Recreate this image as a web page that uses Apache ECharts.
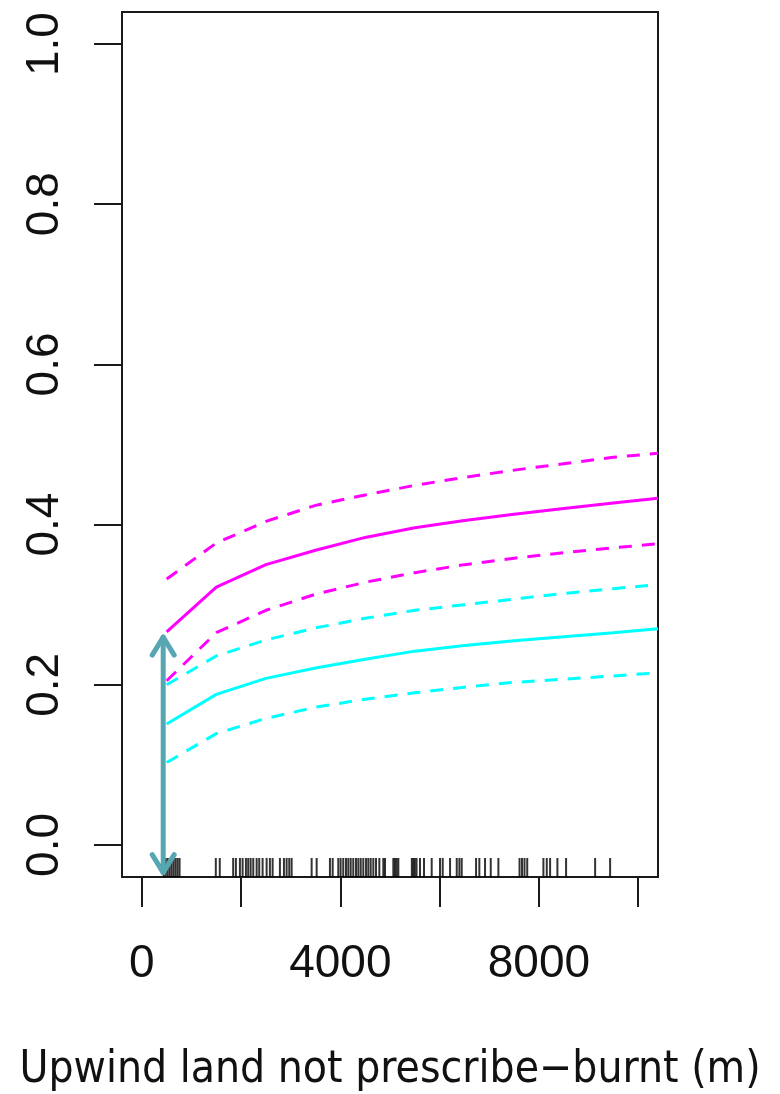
<!DOCTYPE html>
<html>
<head>
<meta charset="utf-8">
<script src="https://cdn.jsdelivr.net/npm/echarts@6/dist/echarts.min.js"></script>
<style>
  html, body { margin: 0; padding: 0; background: #fff; }
  #main { width: 780px; height: 1094px; }
</style>
</head>
<body>
<div id="main"></div>
<script>
// distances along x where the curves were evaluated
const xPoints = [500, 1500, 2500, 3500, 4500, 5500, 6500, 7500, 8500, 9500, 10400]

// magenta: fitted line and its band
const magentaFit   = [0.266, 0.322, 0.350, 0.368, 0.384, 0.396, 0.405, 0.413, 0.420, 0.427, 0.433]
const magentaUpper = [0.332, 0.377, 0.404, 0.424, 0.437, 0.449, 0.459, 0.468, 0.476, 0.484, 0.489]
const magentaLower = [0.205, 0.265, 0.293, 0.313, 0.328, 0.340, 0.350, 0.358, 0.365, 0.371, 0.376]

// cyan: fitted line and its band
const cyanFit   = [0.151, 0.188, 0.208, 0.221, 0.232, 0.242, 0.249, 0.255, 0.260, 0.265, 0.270]
const cyanUpper = [0.200, 0.236, 0.256, 0.271, 0.283, 0.293, 0.300, 0.307, 0.314, 0.320, 0.325]
const cyanLower = [0.103, 0.139, 0.158, 0.172, 0.182, 0.190, 0.197, 0.203, 0.207, 0.211, 0.215]

// observed distances (rug along the bottom)
const rugValues = [
  440, 480, 520, 560, 600, 640, 680, 720, 760,
  1490, 1570, 1840, 1895,
  1976, 2030, 2097, 2143, 2192, 2245, 2313, 2365, 2433, 2514,
  2580, 2635, 2782, 2863, 2917, 2970, 3018,
  3421, 3522, 3790, 3845,
  3958, 4005, 4058, 4113, 4160, 4208, 4260, 4315, 4362, 4410, 4462, 4517, 4563, 4611, 4664, 4718, 4785,
  4865, 4899, 5067, 5100, 5135, 5168,
  5440, 5470, 5500, 5535, 5605, 5685, 5840,
  6008, 6062, 6210, 6345, 6398, 6445,
  6734, 6800, 6915, 7030, 7184,
  7610, 7660, 7710, 7765,
  8091, 8159, 8226, 8373, 8548, 9133, 9435
]

// double arrow marking the gap at the first point
const arrowX = 430
const arrowTop = 0.262
const arrowBottom = -0.037

const yTicks = [0, 0.2, 0.4, 0.6, 0.8, 1.0]
const xTicks = [0, 2000, 4000, 6000, 8000, 10000]
const xLabels = [0, 4000, 8000]

const MAGENTA = '#ff00ff'
const CYAN = '#00ffff'
const TEAL = '#57a7b3'

const pairs = (ys) => xPoints.map((x, i) => [x, ys[i]])

function curve(name, ys, color, dashed) {
  return {
    name: name,
    type: 'line',
    data: pairs(ys),
    showSymbol: false,
    silent: true,
    z: 3,
    lineStyle: {
      color: color,
      width: 3,
      type: dashed ? [13, 10] : 'solid'
    }
  }
}

const chart = echarts.init(document.getElementById('main'))

chart.setOption({
  animation: false,
  backgroundColor: '#fff',
  grid: {
    left: 122,
    right: 122,
    top: 12,
    bottom: 217,
    containLabel: false,
    outerBoundsMode: 'none',
    show: true,
    borderColor: '#1a1a1a',
    borderWidth: 2,
    backgroundColor: 'transparent'
  },
  xAxis: {
    type: 'value',
    min: -400,
    max: 10400,
    splitLine: { show: false },
    axisLine: { show: false, onZero: false },
    axisTick: {
      show: true,
      length: 30,
      customValues: xTicks,
      lineStyle: { color: '#1a1a1a', width: 2 }
    },
    axisLabel: {
      customValues: xLabels,
      margin: 64,
      color: '#111',
      fontSize: 46,
      fontFamily: 'Liberation Sans',
      formatter: (v) => String(v)
    },
    name: 'Upwind land not prescribe\u2212burnt (m)',
    nameLocation: 'middle',
    nameGap: 172,
    nameTextStyle: {
      color: '#111',
      fontSize: 44,
      fontFamily: 'DejaVu Sans Condensed'
    }
  },
  yAxis: {
    type: 'value',
    min: -0.04,
    max: 1.04,
    splitLine: { show: false },
    axisLine: { show: false, onZero: false },
    axisTick: {
      show: true,
      length: 28,
      customValues: yTicks,
      lineStyle: { color: '#1a1a1a', width: 2 }
    },
    axisLabel: {
      customValues: yTicks,
      rotate: 90,
      margin: 54,
      color: '#111',
      fontSize: 46,
      fontFamily: 'Liberation Sans',
      formatter: (v) => v.toFixed(1)
    }
  },
  series: [
    curve('magenta upper', magentaUpper, MAGENTA, true),
    curve('magenta fit', magentaFit, MAGENTA, false),
    curve('magenta lower', magentaLower, MAGENTA, true),
    curve('cyan upper', cyanUpper, CYAN, true),
    curve('cyan fit', cyanFit, CYAN, false),
    curve('cyan lower', cyanLower, CYAN, true),
    {
      name: 'rug',
      type: 'scatter',
      silent: true,
      data: rugValues.map(v => [v, -0.04]),
      symbol: 'rect',
      symbolSize: [2, 19],
      symbolOffset: [0, -9.5],
      itemStyle: { color: '#000' },
      z: 2
    },
    {
      name: 'arrow',
      type: 'custom',
      silent: true,
      z: 5,
      data: [[arrowX, arrowTop, arrowBottom]],
      renderItem: function (params, api) {
        const top = api.coord([api.value(0), api.value(1)])
        const bot = api.coord([api.value(0), api.value(2)])
        const style = { stroke: TEAL, lineWidth: 5, fill: null, lineCap: 'round', lineJoin: 'round' }
        return {
          type: 'group',
          children: [
            { type: 'line', shape: { x1: top[0], y1: top[1] + 2, x2: bot[0], y2: bot[1] - 2 }, style: style },
            { type: 'polyline', shape: { points: [[top[0] - 11, top[1] + 20], [top[0], top[1] + 2], [top[0] + 11, top[1] + 20]] }, style: style },
            { type: 'polyline', shape: { points: [[bot[0] - 11, bot[1] - 20], [bot[0], bot[1] - 2], [bot[0] + 11, bot[1] - 20]] }, style: style }
          ]
        }
      }
    }
  ]
})
</script>
</body>
</html>
